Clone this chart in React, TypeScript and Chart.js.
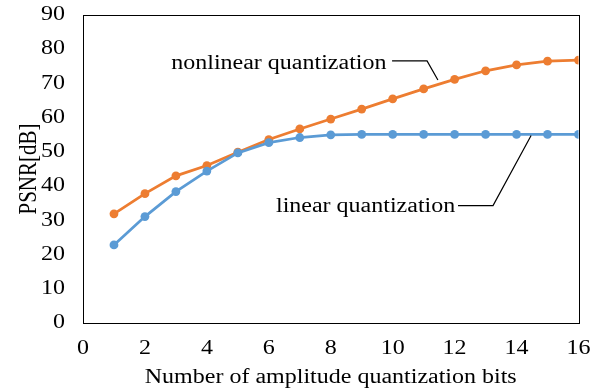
import React, { useEffect, useRef } from "react";
import { Chart, registerables } from "chart.js";

Chart.register(...registerables);

const bits = [1, 2, 3, 4, 5, 6, 7, 8, 9, 10, 11, 12, 13, 14, 15, 16];
const linearPSNR = [22.8, 31.1, 38.4, 44.4, 49.7, 52.7, 54.2, 55.0, 55.1, 55.1, 55.1, 55.1, 55.1, 55.1, 55.1, 55.1];
const nonlinearPSNR = [31.9, 37.8, 43.0, 46.0, 49.9, 53.6, 56.7, 59.6, 62.5, 65.5, 68.4, 71.2, 73.7, 75.4, 76.5, 76.8];
const xTicks = [0, 2, 4, 6, 8, 10, 12, 14, 16];
const yTicks = [0, 10, 20, 30, 40, 50, 60, 70, 80, 90];

const seriesNames = ["nonlinear quantization", "linear quantization"];
// leader-line callouts in data coordinates: text end [x, baseline y], then polyline points
const calloutText = [
  [9.8, 74.3],
  [12.02, 32.5],
];
const calloutLines = [
  [[9.98, 76.6], [11.11, 76.6], [11.46, 71.0]],
  [[12.11, 34.3], [13.24, 34.3], [14.47, 54.8]],
];

const FONT = "'Liberation Serif', 'Times New Roman', serif";
const SX = 1.2; // horizontal stretch of all text

const textStretch = {
  id: "textStretch",
  beforeDraw(chart: any) {
    const ctx = chart.ctx;
    if (ctx.__origFillText) return;
    const orig = ctx.fillText;
    ctx.__origFillText = orig;
    ctx.fillText = function (t: string, x: number, y: number) {
      const m = ctx.getTransform();
      const p = m.transformPoint(new DOMPoint(x, y));
      ctx.save();
      ctx.setTransform(new DOMMatrix().translate(p.x, p.y).scale(SX, 1).translate(-p.x, -p.y).multiply(m));
      orig.call(ctx, t, x, y);
      ctx.restore();
    };
  },
  afterDraw(chart: any) {
    const ctx = chart.ctx;
    if (ctx.__origFillText) {
      ctx.fillText = ctx.__origFillText;
      delete ctx.__origFillText;
    }
  },
};

const frameAndCallouts = {
  id: "frameAndCallouts",
  afterDatasetsDraw(chart: any) {
    const { ctx, chartArea, scales } = chart;
    const xs = scales.x;
    const ys = scales.y;
    ctx.save();
    ctx.strokeStyle = "#000";
    ctx.lineWidth = 1;
    ctx.strokeRect(
      Math.round(chartArea.left) + 0.5,
      Math.round(chartArea.top) + 0.5,
      Math.round(chartArea.right - chartArea.left),
      Math.round(chartArea.bottom - chartArea.top)
    );
    ctx.fillStyle = "#000";
    ctx.font = `20px ${FONT}`;
    ctx.textAlign = "right";
    ctx.textBaseline = "alphabetic";
    seriesNames.forEach((name, i) => {
      const [tx, ty] = calloutText[i];
      ctx.fillText(name, xs.getPixelForValue(tx), ys.getPixelForValue(ty));
      ctx.beginPath();
      calloutLines[i].forEach(([px, py], j) => {
        const X = xs.getPixelForValue(px);
        const Y = ys.getPixelForValue(py);
        if (j === 0) ctx.moveTo(X, Y);
        else ctx.lineTo(X, Y);
      });
      ctx.lineWidth = 1.2;
      ctx.stroke();
    });
    ctx.restore();
  },
};

export default function App() {
  const ref = useRef<HTMLCanvasElement>(null);
  useEffect(() => {
    if (!ref.current) return;
    const chart = new Chart(ref.current, {
      type: "line",
      data: {
        datasets: [
          {
            label: "linear quantization",
            data: bits.map((b, i) => ({ x: b, y: linearPSNR[i] })),
            borderColor: "#5B9BD5",
            backgroundColor: "#5B9BD5",
            borderWidth: 2.75,
            pointRadius: 4.4,
            pointBorderWidth: 0,
          },
          {
            label: "nonlinear quantization",
            data: bits.map((b, i) => ({ x: b, y: nonlinearPSNR[i] })),
            borderColor: "#ED7D31",
            backgroundColor: "#ED7D31",
            borderWidth: 2.75,
            pointRadius: 4.4,
            pointBorderWidth: 0,
          },
        ],
      },
      options: {
        animation: false,
        responsive: false,
        layout: { padding: { top: 15, right: 20.5, left: 0, bottom: 0 } },
        plugins: { legend: { display: false }, tooltip: { enabled: false } },
        scales: {
          x: {
            type: "linear",
            min: 0,
            max: 16,
            afterBuildTicks: (s: any) => {
              s.ticks = xTicks.map((v) => ({ value: v }));
            },
            afterFit: (s: any) => {
              s.height = 67;
              s.paddingLeft = 0;
              s.paddingRight = 0;
            },
            grid: { display: false, drawTicks: false },
            border: { display: false },
            ticks: { color: "#000", font: { family: FONT, size: 20 }, padding: 14, autoSkip: false, maxRotation: 0 },
            title: {
              display: true,
              text: "Number of amplitude quantization bits",
              color: "#000",
              font: { family: FONT, size: 20 },
              padding: { top: 4, bottom: 0 },
            },
          },
          y: {
            min: 0,
            max: 90,
            afterBuildTicks: (s: any) => {
              s.ticks = yTicks.map((v) => ({ value: v }));
            },
            afterFit: (s: any) => {
              s.width = 83;
              s.paddingTop = 0;
              s.paddingBottom = 0;
            },
            grid: { display: false, drawTicks: false },
            border: { display: false },
            ticks: { color: "#000", font: { family: FONT, size: 20 }, padding: 18 },
            title: {
              display: true,
              text: "PSNR[dB]",
              color: "#000",
              font: { family: FONT, size: 21 },
              padding: { top: 17, bottom: 0 },
            },
          },
        },
      },
      plugins: [textStretch, frameAndCallouts],
    } as any);
    return () => chart.destroy();
  }, []);
  return (
    <div style={{ position: "fixed", left: 0, top: 0, width: 599, height: 390, background: "#fff" }}>
      <canvas ref={ref} width={599} height={390} style={{ width: 599, height: 390 }} />
    </div>
  );
}
